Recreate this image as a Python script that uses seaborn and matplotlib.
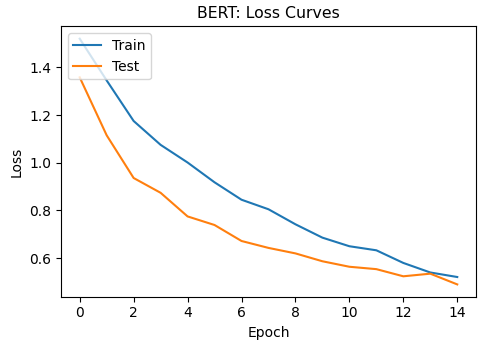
import matplotlib
matplotlib.use("Agg")
import matplotlib.pyplot as plt
import seaborn as sns
import pandas as pd

epochs = list(range(15))
train_loss = [1.52, 1.345, 1.175, 1.075, 1.001, 0.918, 0.845, 0.805, 0.742, 0.686, 0.650, 0.633, 0.580, 0.540, 0.521]
test_loss = [1.358, 1.115, 0.936, 0.874, 0.775, 0.739, 0.672, 0.643, 0.620, 0.587, 0.564, 0.554, 0.524, 0.535, 0.490]
series_names = ["Train", "Test"]
colors = ["#1f77b4", "#ff7f0e"]

df = pd.DataFrame({
    "Epoch": epochs * 2,
    "Loss": train_loss + test_loss,
    "Set": [series_names[0]] * len(epochs) + [series_names[1]] * len(epochs),
})

fig = plt.figure(figsize=(4.79, 3.43), dpi=100)
ax = fig.add_axes([0.127, 0.135, 0.867, 0.788])
sns.lineplot(data=df, x="Epoch", y="Loss", hue="Set", palette=colors, ax=ax, linewidth=1.5)
ax.set_title("BERT: Loss Curves", fontsize=11.3)
ax.set_xlabel("Epoch")
ax.set_ylabel("Loss")
ax.set_xticks([0, 2, 4, 6, 8, 10, 12, 14])
ax.set_yticks([0.6, 0.8, 1.0, 1.2, 1.4])
ax.legend(loc="upper left", title=None)
fig.savefig("out.png", dpi=100)
